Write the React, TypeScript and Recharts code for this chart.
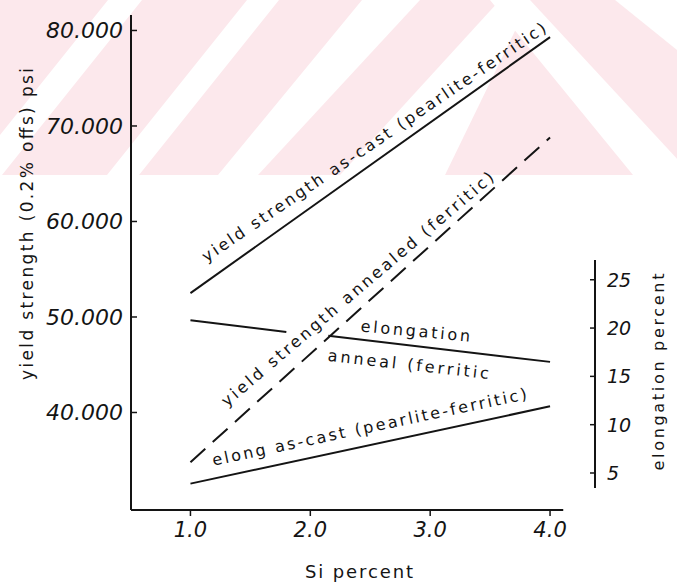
import { LineChart, Line, XAxis, YAxis, ReferenceLine, ReferenceDot } from 'recharts'

// Si percent at the two ends of the straight lines
const siEnds = [1.0, 4.0]
// yield strength, psi
const yieldAsCast = [52500, 79300]
const yieldAnnealed = [34800, 68800]
// elongation, percent (annealed line is broken where the label crosses it)
const elongAnnealSi = [1.0, 1.8, 2.0, 2.15, 4.0]
const elongAnnealed: (number | null)[] = [20.8, 19.6, null, 19.2, 16.5]
const elongAsCast = [3.9, 11.9]

const siTicks = [1, 2, 3, 4]
const psiTicks = [40000, 50000, 60000, 70000, 80000]
const elongTicks = [5, 10, 15, 20, 25]

const SI_DOMAIN: [number, number] = [0.504, 4.375]
const PSI_DOMAIN: [number, number] = [29790, 81620]
const ELONG_DOMAIN: [number, number] = [1.17, 52.4]

const FONT = '"DejaVu Sans", sans-serif'
const INK = '#141414'

// text written along the lines, anchored in data units
const annotations = [
  { text: 'yield strength as-cast (pearlite-ferritic)', si: 2.53, psi: 68300, angle: -34.2, len: 412 },
  { text: 'yield strength annealed (ferritic)', si: 2.393, psi: 52930, angle: -40.4, len: 352 },
  { text: 'elongation', si: 2.877, psi: 48530, angle: 5.3, len: 110 },
  { text: 'anneal (ferritic', si: 2.818, psi: 45030, angle: 6.4, len: 162 },
  { text: 'elong as-cast (pearlite-ferritic)', si: 2.493, psi: 38480, angle: -12, len: 321 },
]

const toRows = (xs: number[], ys: (number | null)[]) => xs.map((si, i) => ({ si, v: ys[i] }))

const fmtPsi = (v: number) => `${v / 1000}.000`

function PsiTick({ x, y, payload }: any) {
  return (
    <g>
      <line x1={x + 8} x2={x + 14} y1={y} y2={y} stroke={INK} strokeWidth={1.5} />
      <text x={x} y={y} dy={8} textAnchor="end" fontFamily={FONT} fontStyle="italic" fontSize={22} fill={INK}>
        {fmtPsi(payload.value)}
      </text>
    </g>
  )
}

function ElongTick({ x, y, payload }: any) {
  return (
    <g>
      <line x1={x - 12} x2={x - 17} y1={y} y2={y} stroke={INK} strokeWidth={1.5} />
      <text x={x} y={y} dy={7} textAnchor="start" fontFamily={FONT} fontStyle="italic" fontSize={19} fill={INK}>
        {payload.value}
      </text>
    </g>
  )
}

function SiTick({ x, y, payload }: any) {
  return (
    <g>
      <line x1={x} x2={x} y1={y} y2={y + 6} stroke={INK} strokeWidth={1.5} />
      <text x={x} y={y + 27} textAnchor="middle" fontFamily={FONT} fontStyle="italic" fontSize={21} fill={INK}>
        {payload.value.toFixed(1)}
      </text>
    </g>
  )
}

function AlongText({ viewBox, text, angle, len }: any) {
  const cx = viewBox.x + viewBox.width / 2
  const cy = viewBox.y + viewBox.height / 2
  return (
    <text
      x={cx}
      y={cy}
      transform={`rotate(${angle} ${cx} ${cy})`}
      textAnchor="middle"
      dominantBaseline="central"
      fontFamily={FONT}
      fontSize={16}
      fill={INK}
      textLength={len}
      lengthAdjust="spacing"
    >
      {text}
    </text>
  )
}

function Watermark() {
  return (
    <svg width={677} height={587} style={{ position: 'absolute', left: 0, top: 0 }}>
      <rect x={0} y={0} width={677} height={175} fill="#fce8ec" />
      <g fill="#fff">
        <polygon points="108,0 142,0 2,175 -32,175" />
        <polygon points="247,0 279,0 139,175 107,175" />
        <polygon points="362,0 420,0 258,175 218,175" />
        <polygon points="500,0 530,0 445,175 340,175" />
        <polygon points="490,0 530,0 692,175 633,175" />
        <polygon points="615,0 677,0 677,50" />
      </g>
    </svg>
  )
}

export default function App() {
  return (
    <div style={{ position: 'absolute', left: 0, top: 0, width: 677, height: 587, background: '#fff' }}>
      <Watermark />
      <div style={{ position: 'absolute', left: 0, top: 0 }}>
        <LineChart width={677} height={587} margin={{ top: 15, right: 22, bottom: 47, left: 71 }}>
          <XAxis
            dataKey="si"
            type="number"
            domain={SI_DOMAIN}
            ticks={siTicks}
            allowDataOverflow
            axisLine={false}
            tickLine={false}
            tickSize={0}
            tickMargin={0}
            tick={<SiTick />}
            height={30}
            label={({ viewBox }: any) => (
              <text
                x={viewBox.x + 228}
                y={viewBox.y + 68}
                textAnchor="middle"
                fontFamily={FONT}
                fontSize={18}
                fill={INK}
                textLength={108}
                lengthAdjust="spacing"
              >
                Si percent
              </text>
            )}
          />
          <YAxis
            yAxisId="psi"
            orientation="left"
            type="number"
            domain={PSI_DOMAIN}
            ticks={psiTicks}
            allowDataOverflow
            width={60}
            axisLine={{ stroke: INK, strokeWidth: 2 }}
            tickLine={false}
            tickSize={0}
            tickMargin={8}
            tick={<PsiTick />}
            label={({ viewBox }: any) => {
              const x = viewBox.x - 38
              const y = viewBox.y + 209
              return (
                <text
                  x={x}
                  y={y}
                  transform={`rotate(-90 ${x} ${y})`}
                  textAnchor="middle"
                  fontFamily={FONT}
                  fontSize={17}
                  fill={INK}
                  textLength={312}
                  lengthAdjust="spacing"
                >
                  yield strength (0.2% offs) psi
                </text>
              )
            }}
          />
          <YAxis
            yAxisId="elong"
            orientation="right"
            type="number"
            domain={ELONG_DOMAIN}
            ticks={elongTicks}
            allowDataOverflow
            width={60}
            axisLine={false}
            tickLine={false}
            tickSize={0}
            tickMargin={12}
            tick={<ElongTick />}
            label={({ viewBox }: any) => {
              const x = viewBox.x + 69
              const y = viewBox.y + 357
              return (
                <text
                  x={x}
                  y={y}
                  transform={`rotate(-90 ${x} ${y})`}
                  textAnchor="middle"
                  fontFamily={FONT}
                  fontSize={16}
                  fill={INK}
                  textLength={197}
                  lengthAdjust="spacing"
                >
                  elongation percent
                </text>
              )
            }}
          />

          {/* bottom axis stops short of the right scale */}
          <ReferenceLine
            yAxisId="psi"
            segment={[{ x: SI_DOMAIN[0], y: PSI_DOMAIN[0] }, { x: 4.11, y: PSI_DOMAIN[0] }]}
            stroke={INK}
            strokeWidth={2}
            ifOverflow="visible"
          />
          {/* short elongation scale on the right */}
          <ReferenceLine
            yAxisId="elong"
            segment={[{ x: SI_DOMAIN[1], y: 3.45 }, { x: SI_DOMAIN[1], y: 27.05 }]}
            stroke={INK}
            strokeWidth={2}
            ifOverflow="visible"
          />

          <Line
            yAxisId="psi"
            data={toRows(siEnds, yieldAsCast)}
            dataKey="v"
            stroke={INK}
            strokeWidth={2}
            dot={false}
            isAnimationActive={false}
          />
          <Line
            yAxisId="psi"
            data={toRows(siEnds, yieldAnnealed)}
            dataKey="v"
            stroke={INK}
            strokeWidth={2}
            strokeDasharray="20 10"
            dot={false}
            isAnimationActive={false}
          />
          <Line
            yAxisId="elong"
            data={toRows(elongAnnealSi, elongAnnealed)}
            dataKey="v"
            stroke={INK}
            strokeWidth={2}
            dot={false}
            connectNulls={false}
            isAnimationActive={false}
          />
          <Line
            yAxisId="elong"
            data={toRows(siEnds, elongAsCast)}
            dataKey="v"
            stroke={INK}
            strokeWidth={2}
            dot={false}
            isAnimationActive={false}
          />

          {annotations.map((a) => (
            <ReferenceDot
              key={a.text}
              yAxisId="psi"
              x={a.si}
              y={a.psi}
              r={0}
              fill="none"
              stroke="none"
              ifOverflow="visible"
              label={(p: any) => <AlongText {...p} text={a.text} angle={a.angle} len={a.len} />}
            />
          ))}
        </LineChart>
      </div>
    </div>
  )
}
